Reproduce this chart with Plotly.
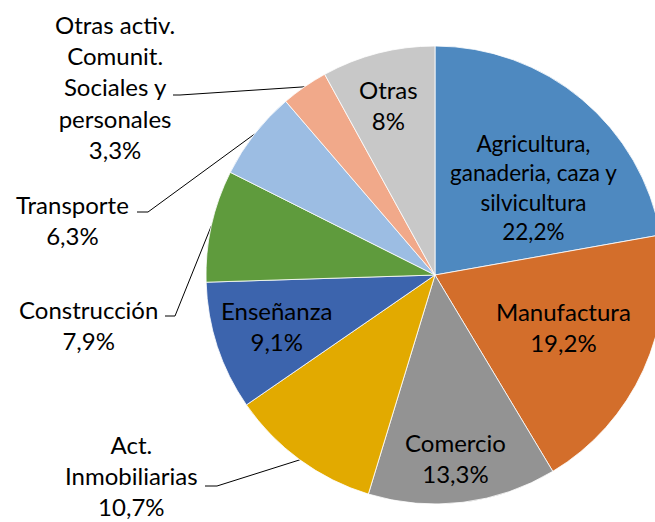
import math
import plotly.graph_objects as go

# Share of employment by sector (%)
sectors = ["Agricultura, ganaderia, caza y silvicultura", "Manufactura", "Comercio",
           "Act. Inmobiliarias", "Enseñanza", "Construcción", "Transporte",
           "Otras activ. Comunit. Sociales y personales", "Otras"]
shares = [22.2, 19.2, 13.3, 10.7, 9.1, 7.9, 6.3, 3.3, 8]
label_lines = [["Agricultura,", "ganaderia, caza y", "silvicultura"], ["Manufactura"], ["Comercio"],
               ["Act.", "Inmobiliarias"], ["Enseñanza"], ["Construcción"], ["Transporte"],
               ["Otras activ.", "Comunit.", "Sociales y", "personales"], ["Otras"]]
colors = ["#4e89c0", "#d36e2b", "#939393", "#e2aa00", "#3c64ad",
          "#5f9b3d", "#9cbde3", "#f1a98a", "#c8c8c8"]

# layout (pixels)
W, H = 680, 522
cx, cy, r = 435, 275, 229
label_pos = [(533, 187), (563, 327), (455, 458), (131, 475), (276, 326),
             (88, 325), (72, 220), (115, 87), (388, 105)]
label_size = [22.5, 24, 24, 24, 24, 24, 24, 24, 24]
# leader line start and elbow for outside labels
leaders = {3: [(205, 486), (217, 486)], 5: [(165, 316), (175, 316)],
           6: [(137, 212), (148, 212)], 7: [(173, 95), (180, 95)]}

fig = go.Figure()
fig.add_trace(go.Pie(labels=sectors, values=shares, sort=False, direction="clockwise",
                     rotation=0, textinfo="none", hoverinfo="label+percent",
                     marker=dict(colors=colors, line=dict(color="white", width=0.8)),
                     domain=dict(x=[(cx - r) / W, (cx + r) / W], y=[1 - (cy + r) / H, 1 - (cy - r) / H]),
                     showlegend=False))

total = sum(shares)
cum = 0
for i, v in enumerate(shares):
    mid = (cum + v / 2) / total * 2 * math.pi
    cum += v
    pct = f"{v:g}".replace(".", ",") + "%"
    x, y = label_pos[i]
    fig.add_annotation(x=x, y=y, xref="x", yref="y", text="<br>".join(label_lines[i] + [pct]),
                       showarrow=False, align="center", font=dict(size=label_size[i], color="black"))
    if i in leaders:
        pts = leaders[i] + [(cx + r * math.sin(mid), cy - r * math.cos(mid))]
        fig.add_trace(go.Scatter(x=[p[0] for p in pts], y=[p[1] for p in pts], mode="lines",
                                 line=dict(color="black", width=1), hoverinfo="skip", showlegend=False))

fig.update_xaxes(range=[0, W], visible=False)
fig.update_yaxes(range=[H, 0], visible=False)
fig.update_layout(width=W, height=H, margin=dict(l=0, r=0, t=0, b=0),
                  paper_bgcolor="white", plot_bgcolor="rgba(0,0,0,0)",
                  font=dict(family="Lato, sans-serif"))
fig.write_html("out.html", config={"displayModeBar": False},
               post_script="document.body.style.margin='0';document.body.style.overflow='hidden';")
